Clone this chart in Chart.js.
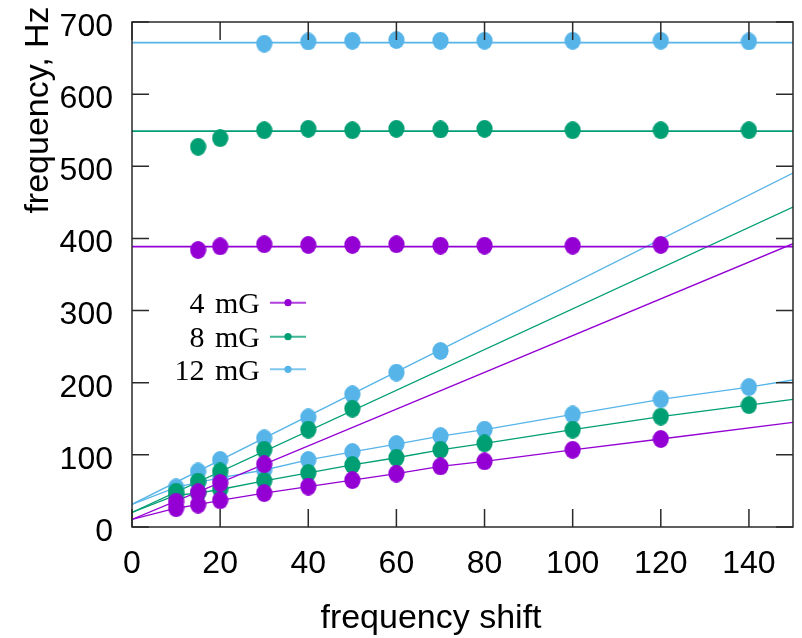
<!DOCTYPE html>
<html><head><meta charset="utf-8">
<script src="https://cdn.jsdelivr.net/npm/chart.js"></script>
<style>html,body{margin:0;padding:0;background:#fff}canvas{display:block}</style>
</head><body>
<canvas id="c" width="802" height="638"></canvas>
<script>
// ---------------- data ----------------
const seriesNames = ['4 mG', '8 mG', '12 mG'];
const xTickValues = [0, 20, 40, 60, 80, 100, 120, 140];
const yTickValues = [0, 100, 200, 300, 400, 500, 600, 700];
const xRange = [0, 150];
const yRange = [0, 700];
const xTitle = 'frequency shift';
const yTitle = 'frequency, Hz';

// flat branch (measured points)
const flat4X = [15, 20, 30, 40, 50, 60, 70, 80, 100, 120];
const flat4Y = [384, 389, 392, 391, 391, 392, 390, 390, 390, 391];
const flat8X = [15, 20, 30, 40, 50, 60, 70, 80, 100, 120, 140];
const flat8Y = [527, 539, 550, 552, 550, 552, 551, 552, 550, 550, 550];
const flat12X = [30, 40, 50, 60, 70, 80, 100, 120, 140];
const flat12Y = [670, 673, 674, 675, 674, 674, 674, 674, 673];

// steep branch (measured points)
const steep4X = [10, 15, 20, 30];
const steep4Y = [35, 48, 61, 87];
const steep8X = [10, 15, 20, 30, 40, 50];
const steep8Y = [49, 63, 77, 107, 135, 164];
const steep12X = [15, 20, 30, 40, 50, 60, 70];
const steep12Y = [77, 93, 123, 152, 184, 214, 244];

// slow branch (measured points)
const slow4X = [10, 15, 20, 30, 40, 50, 60, 70, 80, 100, 120];
const slow4Y = [26, 31, 37, 47, 56, 65, 74, 84, 91, 107, 122];
const slow8X = [10, 15, 20, 30, 40, 50, 60, 70, 80, 100, 120, 140];
const slow8Y = [44, 47, 52, 64, 75, 86, 96, 107, 116, 135, 153, 169];
const slow12X = [10, 15, 20, 30, 40, 50, 60, 70, 80, 100, 120, 140];
const slow12Y = [55, 62, 68, 79, 93, 104, 115, 126, 135, 156, 177, 194];

// model curves (4 mG, 8 mG, 12 mG)
const flatLevel = [388.6, 548.8, 671.4];
const lineStart = [10.6, 20.3, 31.4];   // value at x = 0
const steepEnd  = [392.7, 443.6, 490.7]; // value at x = 150
const slowEnd   = [145, 177, 203.8];     // value at x = 150

const colors = ['#9400d3', '#009e73', '#56b4e9'];

// ---------------- build ----------------
const zip = (xs, ys) => xs.map((x, i) => ({x, y: ys[i]}));
const flatPts  = [zip(flat4X, flat4Y),   zip(flat8X, flat8Y),   zip(flat12X, flat12Y)];
const steepPts = [zip(steep4X, steep4Y), zip(steep8X, steep8Y), zip(steep12X, steep12Y)];
const slowPts  = [zip(slow4X, slow4Y),   zip(slow8X, slow8Y),   zip(slow12X, slow12Y)];

function makeDot(color) {
  const c = document.createElement('canvas');
  c.width = 17; c.height = 18;
  const g = c.getContext('2d');
  g.fillStyle = color;
  g.beginPath();
  g.ellipse(8.5, 9, 8.1, 8.9, 0, 0, Math.PI * 2);
  g.fill();
  return c;
}

// lower `order` is drawn on top: purple points on top, then green, blue; lines below all points
const datasets = [];
for (let i = 0; i < 3; i++) {
  const col = colors[i];
  datasets.push({
    data: [{x: xRange[0], y: flatLevel[i]}, {x: xRange[1], y: flatLevel[i]}],
    showLine: true, borderColor: col, borderWidth: 1.8, pointRadius: 0, order: 20 + i
  });
  datasets.push({
    data: [{x: xRange[0], y: lineStart[i]}, {x: xRange[1], y: steepEnd[i]}],
    showLine: true, borderColor: col, borderWidth: 1.3, pointRadius: 0, order: 20 + i
  });
  datasets.push({
    data: [{x: xRange[0], y: lineStart[i]}, ...slowPts[i], {x: xRange[1], y: slowEnd[i]}],
    showLine: true, borderColor: col, borderWidth: 1.3, pointRadius: 0, order: 20 + i
  });
  const dot = makeDot(col);
  [flatPts[i], steepPts[i], slowPts[i]].forEach(pts => {
    datasets.push({
      data: pts, showLine: false, pointStyle: dot, pointRadius: 8,
      backgroundColor: col, borderColor: col, order: 3 + i
    });
  });
}

const framePlugin = {
  id: 'frame',
  afterDatasetsDraw(chart) {
    const {ctx, chartArea: a, scales} = chart;
    ctx.save();
    ctx.strokeStyle = '#2a2a2a';
    ctx.lineWidth = 1.5;
    ctx.strokeRect(a.left, a.top, a.right - a.left, a.bottom - a.top);
    ctx.beginPath();
    scales.x.ticks.forEach(t => {
      const p = scales.x.getPixelForValue(t.value);
      ctx.moveTo(p, a.bottom); ctx.lineTo(p, a.bottom - 18);
      ctx.moveTo(p, a.top); ctx.lineTo(p, a.top + 18);
    });
    scales.y.ticks.forEach(t => {
      const p = scales.y.getPixelForValue(t.value);
      ctx.moveTo(a.left, p); ctx.lineTo(a.left + 17, p);
      ctx.moveTo(a.right, p); ctx.lineTo(a.right - 17, p);
    });
    ctx.stroke();
    ctx.restore();
  },
  afterDraw(chart) {
    const {ctx} = chart;
    ctx.save();
    ctx.fillStyle = '#000';
    ctx.font = '34px "Liberation Sans", Arial, sans-serif';
    ctx.textAlign = 'center';
    ctx.textBaseline = 'alphabetic';
    ctx.fillText(xTitle, 431, 628);
    ctx.translate(48, 110);
    ctx.rotate(-Math.PI / 2);
    ctx.fillText(yTitle, 0, 0);
    ctx.restore();
    ctx.save();
    const rows = [302.7, 336.7, 369.3];
    ctx.font = '30px "Liberation Serif", "Times New Roman", serif';
    try { ctx.wordSpacing = '3px'; } catch (e) {}
    ctx.textAlign = 'right';
    ctx.textBaseline = 'alphabetic';
    seriesNames.forEach((name, i) => {
      const y = rows[i];
      ctx.fillStyle = '#000';
      ctx.fillText(name, 260, y + 10.5);
      ctx.strokeStyle = colors[i];
      ctx.globalAlpha = 0.75;
      ctx.lineWidth = 2;
      ctx.beginPath(); ctx.moveTo(270, y); ctx.lineTo(306, y); ctx.stroke();
      ctx.globalAlpha = 1;
      ctx.fillStyle = colors[i];
      ctx.beginPath(); ctx.arc(288, y, 3.6, 0, Math.PI * 2); ctx.fill();
    });
    ctx.restore();
  }
};

new Chart(document.getElementById('c'), {
  type: 'scatter',
  data: {datasets},
  options: {
    responsive: false,
    animation: false,
    devicePixelRatio: 1,
    layout: {padding: {top: 22, right: 5, left: 0, bottom: 0}},
    plugins: {legend: {display: false}, tooltip: {enabled: false}},
    scales: {
      x: {
        type: 'linear', min: xRange[0], max: xRange[1],
        afterBuildTicks: s => { s.ticks = xTickValues.map(v => ({value: v})); },
        afterFit: s => { s.height = 111; s.paddingLeft = 0; s.paddingRight = 0; s.paddingTop = 0; s.paddingBottom = 0; },
        grid: {display: false, drawTicks: false},
        border: {display: false},
        ticks: {font: {family: '"Liberation Sans", Arial, sans-serif', size: 32}, color: '#000', padding: 18, maxRotation: 0}
      },
      y: {
        type: 'linear', min: yRange[0], max: yRange[1],
        afterBuildTicks: s => { s.ticks = yTickValues.map(v => ({value: v})); },
        afterFit: s => { s.width = 132; s.paddingLeft = 0; s.paddingRight = 0; s.paddingTop = 0; s.paddingBottom = 0; },
        grid: {display: false, drawTicks: false},
        border: {display: false},
        ticks: {font: {family: '"Liberation Sans", Arial, sans-serif', size: 32}, color: '#000', padding: 19, labelOffset: 5}
      }
    }
  },
  plugins: [framePlugin]
});
</script>
</body></html>
